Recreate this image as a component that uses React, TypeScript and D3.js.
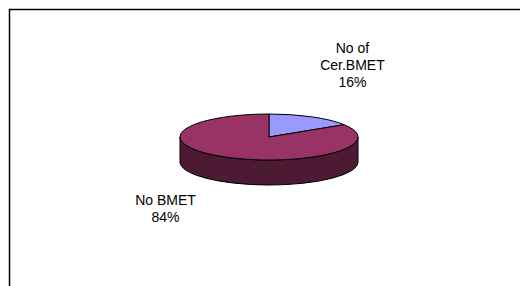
import React from "react";
import * as d3 from "d3";

const categories = ["No of\nCer.BMET", "No BMET"];
const values = [16, 84];
const colors = ["#9999FF", "#993366"];
const sideColors = ["#4D4D80", "#4D1A33"];

const width = 520;
const height = 286;

export default function App() {
  const cx = 269;
  const cy = 137;
  const rx = 89;
  const ry = 23;
  const depth = 25;
  const fontSize = 14;
  const lineH = 17;

  const total = d3.sum(values);
  const arcs = d3.pie<number>().sort(null).value((d) => d)(values);

  const pt = (a: number, dy = 0): [number, number] => [cx + rx * Math.sin(a), cy - ry * Math.cos(a) + dy];

  const topPath = (a0: number, a1: number) => {
    const p0 = pt(a0);
    const p1 = pt(a1);
    const large = a1 - a0 > Math.PI ? 1 : 0;
    return `M${cx},${cy}L${p0[0]},${p0[1]}A${rx},${ry} 0 ${large} 1 ${p1[0]},${p1[1]}Z`;
  };

  // front wall only shows between 3 o'clock and 9 o'clock
  const sidePath = (a0: number, a1: number) => {
    const s = Math.max(a0, Math.PI / 2);
    const e = Math.min(a1, (3 * Math.PI) / 2);
    if (e <= s) return null;
    const p0 = pt(s);
    const p1 = pt(e);
    const q0 = pt(s, depth);
    const q1 = pt(e, depth);
    return `M${p0[0]},${p0[1]}A${rx},${ry} 0 0 1 ${p1[0]},${p1[1]}L${q1[0]},${q1[1]}A${rx},${ry} 0 0 0 ${q0[0]},${q0[1]}Z`;
  };

  const labelRx = 194;
  const labelRy = 82;

  return (
    <svg width={width} height={height} style={{ position: "absolute", left: 0, top: 0, background: "#fff" }}>
      <rect x={9.5} y={9.5} width={width + 10} height={height + 10} fill="#fff" stroke="#000" strokeWidth={1.5} />
      {arcs.map((d, i) => {
        const p = sidePath(d.startAngle, d.endAngle);
        return p ? <path key={"s" + i} d={p} fill={sideColors[i]} stroke="#000" strokeWidth={1} /> : null;
      })}
      {arcs.map((d, i) => (
        <path key={"t" + i} d={topPath(d.startAngle, d.endAngle)} fill={colors[i]} stroke="#000" strokeWidth={1} />
      ))}
      {arcs.map((d, i) => {
        const mid = (d.startAngle + d.endAngle) / 2;
        const lx = cx + labelRx * Math.sin(mid) - 10;
        const ly = cy - labelRy * Math.cos(mid);
        const lines = categories[i].split("\n").concat(Math.round((values[i] / total) * 100) + "%");
        const y0 = ly - ((lines.length - 1) * lineH) / 2 + fontSize * 0.35;
        return (
          <text key={"l" + i} x={lx} y={y0} textAnchor="middle" fontFamily="'Liberation Sans', Arial, sans-serif" fontSize={fontSize} fill="#000">
            {lines.map((t, j) => (
              <tspan key={j} x={lx} y={y0 + j * lineH}>{t}</tspan>
            ))}
          </text>
        );
      })}
    </svg>
  );
}
